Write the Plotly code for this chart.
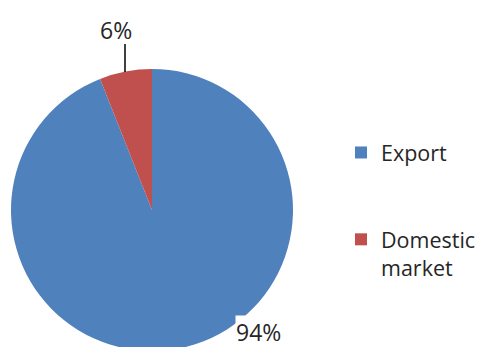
import plotly.graph_objects as go

# Sales split by destination
categories = ["Export", "Domestic market"]
values = [94, 6]
colors = ["#4F81BD", "#C0504D"]

W, H = 494, 352
total = sum(values)
pct = [f"{round(v / total * 100)}%" for v in values]

# legend entries: wrap words onto lines, pad the first entry to space the items apart
legend_names = [c.replace(" ", "<br>") for c in categories]
legend_names[0] += "<br> <br> "


def px(x):
    return x / W


def py(y):
    return (H - y) / H


fig = go.Figure(
    go.Pie(
        labels=legend_names,
        values=values,
        marker=dict(colors=colors, line=dict(width=0)),
        sort=False,
        direction="clockwise",
        rotation=0,
        textinfo="none",
        hoverinfo="percent",
        domain=dict(x=[px(11), px(293)], y=[py(351), py(69)]),
    )
)

label_font = dict(family="Open Sans, sans-serif", size=23, color="#262626")

# leader line for the small slice label
fig.add_shape(type="line", xref="paper", yref="paper",
              x0=px(125), x1=px(125), y0=py(44), y1=py(72),
              line=dict(color="black", width=1.5))

fig.add_annotation(x=px(116), y=py(30), xref="paper", yref="paper",
                   xanchor="center", yanchor="middle",
                   text=pct[1], showarrow=False, font=label_font)
fig.add_annotation(x=px(258), y=py(331.5), xref="paper", yref="paper",
                   xanchor="center", yanchor="middle",
                   text=pct[0], showarrow=False, font=label_font,
                   bgcolor="white", borderpad=0)

fig.update_layout(
    width=W,
    height=H,
    margin=dict(l=0, r=0, t=0, b=0),
    paper_bgcolor="white",
    plot_bgcolor="white",
    font=label_font,
    showlegend=True,
    legend=dict(
        x=px(341), y=py(132), xanchor="left", yanchor="top",
        valign="top",
        font=dict(family="Open Sans, sans-serif", size=21.5, color="#262626"),
    ),
)

fig.write_html("out.html", post_script="document.documentElement.style.overflow='hidden';document.body.style.overflow='hidden';")
